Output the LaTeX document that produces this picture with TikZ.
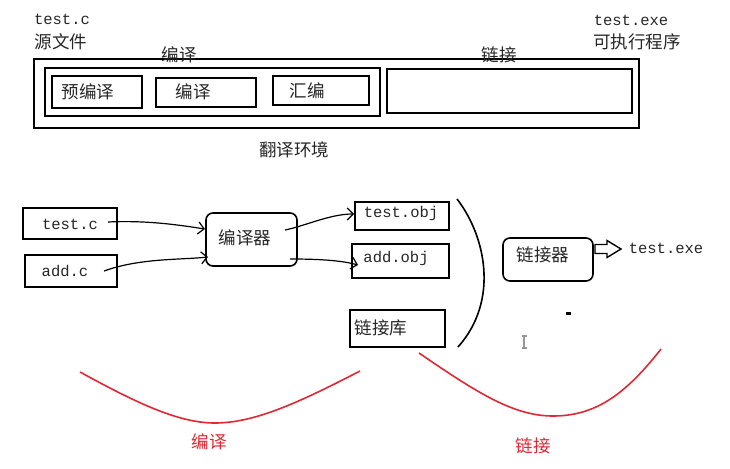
\documentclass[tikz,border=0pt]{standalone}
\usepackage{fontspec}
\newfontfamily\cjk{Noto Sans CJK SC}
\setmonofont{Liberation Mono}
\usetikzlibrary{arrows.meta}
\definecolor{curvered}{RGB}{222,40,52}
\definecolor{cursorgrey}{RGB}{150,150,150}
\tikzset{
  box/.style={draw=black, line width=1.6pt, inner sep=0pt},
  rbox/.style={box, rounded corners=7pt},
  cjklabel/.style={font=\cjk\fontsize{17.5}{19}\selectfont, inner sep=0pt, text=black!85},
  monolabel/.style={font=\ttfamily\fontsize{15.5}{17}\selectfont, inner sep=0pt, text=black!85},
  flow/.style={line width=1.2pt, -{Straight Barb[length=6pt,width=12pt,line width=1.2pt]}},
  redcurve/.style={draw=curvered, line width=1.6pt},
  redlabel/.style={font=\cjk\fontsize{17.5}{19}\selectfont, inner sep=0pt, text=curvered}
}
\begin{document}
\begin{tikzpicture}[x=1pt,y=-1pt]
\useasboundingbox (0,0) rectangle (730,468);
% top section
\node[monolabel] (srcname) at (62,19) {test.c};
\node[cjklabel] (srclabel) at (61,42) {源文件};
\node[monolabel] (exename) at (631,20) {test.exe};
\node[cjklabel] (exelabel) at (637,42) {可执行程序};

\node[box, minimum width=605pt, minimum height=69pt] (outer) at (336.5,93.5) {};
\node[box, minimum width=335pt, minimum height=48pt] (compilebox) at (212.5,92) {};
\node[box, minimum width=245pt, minimum height=44pt] (linkbox) at (509.5,91) {};
\node[cjklabel] (compiletitle) at (179,55) {编译};
\node[cjklabel] (linktitle) at (499,55) {链接};

\node[box, minimum width=90pt, minimum height=32pt] (pre) at (97,92) {};
\node[cjklabel] (pretext) at (88,92) {预编译};
\node[box, minimum width=100pt, minimum height=29pt] (comp) at (206,92.5) {};
\node[cjklabel] (comptext) at (193,92) {编译};
\node[box, minimum width=96pt, minimum height=29pt] (asm) at (321,90.5) {};
\node[cjklabel] (asmtext) at (307,91) {汇编};
\node[cjklabel] (env) at (294,150) {翻译环境};

% bottom section
\node[box, minimum width=94pt, minimum height=31pt] (testc) at (70,223.5) {};
\node[monolabel] (testctext) at (70,224) {test.c};
\node[box, minimum width=92pt, minimum height=32pt] (addc) at (71,271) {};
\node[monolabel] (addctext) at (65,271) {add.c};
\node[rbox, minimum width=91pt, minimum height=53pt] (compiler) at (251.5,239.5) {};
\node[cjklabel] (compilertext) at (245,238) {编译器};

\node[box, minimum width=94pt, minimum height=28pt] (testobj) at (402,216) {};
\node[monolabel] (testobjtext) at (401,213) {test.obj};
\node[box, minimum width=97pt, minimum height=34pt] (addobj) at (400.5,261) {};
\node[monolabel] (addobjtext) at (396,258) {add.obj};
\node[box, minimum width=95pt, minimum height=37pt] (lib) at (397.5,328.5) {};
\node[cjklabel] (libtext) at (381,328) {链接库};

\node[rbox, minimum width=90pt, minimum height=43pt] (linker) at (548,259.5) {};
\node[cjklabel] (linkertext) at (543,255) {链接器};
\node[monolabel] (exeout) at (666,248) {test.exe};

% connectors
\coordinate (a1) at (108,222);
\coordinate (a2) at (205,229);
\draw[flow] (a1) .. controls (150,220) and (185,226) .. (a2);
\coordinate (b1) at (104,271);
\coordinate (b2) at (208,257);
\draw[flow] (b1) .. controls (140,258) and (180,260) .. (b2);
\coordinate (c1) at (285,230);
\coordinate (c2) at (354,214);
\draw[flow] (c1) .. controls (305,226) and (330,214) .. (c2);
\coordinate (d1) at (290,259);
\coordinate (d2) at (358,265);
\draw[flow] (d1) .. controls (315,259) and (340,260) .. (d2);

% bracket
\coordinate (br1) at (457,199);
\coordinate (br2) at (458,347);
\draw[line width=1.6pt] (br1) .. controls (485,235) and (500,300) .. (br2);

% hollow arrow
\coordinate (ha) at (595,249);
\draw[line width=1.4pt, fill=white, line join=miter]
  (ha) ++(0,-4.5) -- ++(12,0) -- ++(0,-4) -- ++(14,8.5) -- ++(-14,8.5) -- ++(0,-4) -- ++(-12,0) -- cycle;

% small marks
\fill[black] (565.5,312) rectangle (570.5,315);
\coordinate (cur) at (524,342);
\draw[cursorgrey, line width=1.1pt] (cur) ++(0,-6) -- ++(0,12)
  (cur) ++(-2.5,-6) -- ++(5,0) (cur) ++(-2.5,6) -- ++(5,0);

% red curves
\coordinate (l1) at (80,372);
\coordinate (lm) at (215,423);
\coordinate (l2) at (360,371);
\draw[redcurve] (l1) .. controls (140,405) and (180,423) .. (lm) .. controls (255,423) and (300,402) .. (l2);
\node[redlabel] (compred) at (209,442) {编译};
\coordinate (r1) at (419,353);
\coordinate (rm) at (553,416);
\coordinate (r2) at (661,349);
\draw[redcurve] (r1) .. controls (480,395) and (515,416) .. (rm) .. controls (595,416) and (625,395) .. (r2);
\node[redlabel] (linkred) at (533,446) {链接};
\end{tikzpicture}
\end{document}
